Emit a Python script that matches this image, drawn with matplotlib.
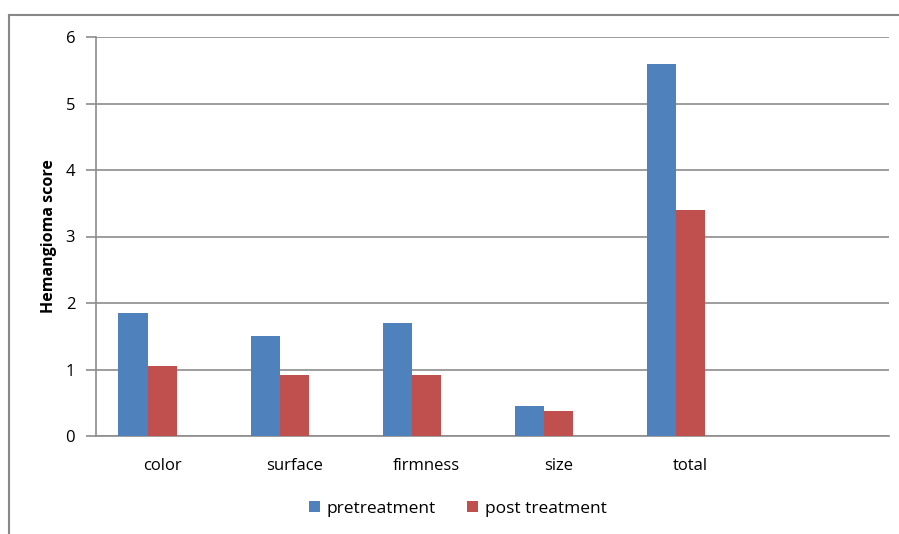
import matplotlib.pyplot as plt
import numpy as np
from matplotlib.lines import Line2D

# Scores per characteristic
categories = ['color', 'surface', 'firmness', 'size', 'total']
pretreatment = [1.85, 1.50, 1.70, 0.45, 5.60]
post_treatment = [1.05, 0.92, 0.92, 0.38, 3.40]

plt.rcParams['font.family'] = ['Open Sans', 'DejaVu Sans']

fig = plt.figure(figsize=(8.99, 5.34), dpi=100)
ax = fig.add_axes([96 / 899, 1 - 436 / 534, (889 - 96) / 899, (436 - 37) / 534])

x = np.arange(len(categories))
w = 0.22
# clusters leave room for a third (empty) bar on the right
ax.bar(x - 1.5 * w, pretreatment, w, align='edge', color='#4F81BD', label='pretreatment', zorder=3)
ax.bar(x - 0.5 * w, post_treatment, w, align='edge', color='#C0504D', label='post treatment', zorder=3)

ax.set_xlim(-0.5, 5.5)
ax.set_ylim(0, 6)
ax.set_yticks(range(7))
ax.set_xticks(x)
ax.set_xticklabels(categories, fontsize=12)
ax.tick_params(axis='x', length=0, pad=16)
ax.tick_params(axis='y', length=7, color='#8c8c8c', width=1.2, labelsize=12, pad=8)
ax.yaxis.grid(True, color='#8c8c8c', linewidth=1.2, zorder=0)

for side in ['top', 'right']:
    ax.spines[side].set_visible(False)
for side in ['left', 'bottom']:
    ax.spines[side].set_color('#8c8c8c')
    ax.spines[side].set_linewidth(1.2)

ax.set_ylabel('Hemangioma score', fontsize=11.5, fontweight='bold', labelpad=6)

fig.legend(loc='center', bbox_to_anchor=(458 / 899, 1 - 509 / 534), ncol=2, frameon=False,
           fontsize=12.5, handlelength=0.6, handleheight=0.6, handletextpad=0.4, columnspacing=1.8)

# outer frame
fig.add_artist(Line2D([8.5 / 899, 8.5 / 899], [0, 1 - 14.5 / 534], color='#888888', lw=1.5))
fig.add_artist(Line2D([8.5 / 899, 1], [1 - 14.5 / 534, 1 - 14.5 / 534], color='#888888', lw=1.5))

fig.savefig('out.png', dpi=100)
